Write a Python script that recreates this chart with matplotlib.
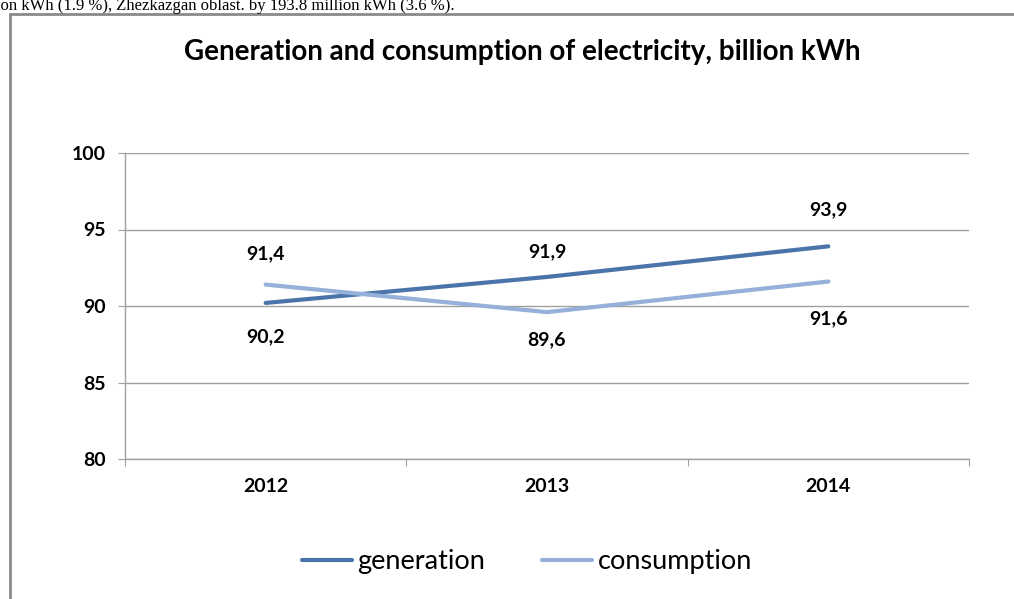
import matplotlib
matplotlib.use("Agg")
import matplotlib.pyplot as plt
from matplotlib.patches import Rectangle
from matplotlib.lines import Line2D

# data
years = ["2012", "2013", "2014"]
generation = [90.2, 91.9, 93.9]
consumption = [91.4, 89.6, 91.6]
gen_labels = ["90,2", "91,9", "93,9"]
con_labels = ["91,4", "89,6", "91,6"]
y_ticks = [80, 85, 90, 95, 100]

# label offsets in points (Excel labels were nudged by hand)
gen_dy = [-24, 18, 26]
con_dy = [22, -20, -27]

GEN_C = "#4A74AA"
CON_C = "#95B0D9"
GRID_C = "#a0a0a0"
SANS = ["Lato", "DejaVu Sans"]

plt.rcParams["font.family"] = SANS

fig = plt.figure(figsize=(10.14, 5.99), dpi=100)
W, H = 1014, 599

# text from the page above the chart, mostly cut off
fig.text(455 / W, 1 - 9.5 / H,
         "million kWh (1.9 %), Zhezkazgan oblast. by 193.8 million kWh (3.6 %).",
         ha="right", va="baseline", fontsize=12, family="Liberation Serif")

# chart frame
fig.patches.append(Rectangle((9.5 / W, -0.1), 1.1, 1 - 13.5 / H + 0.1,
                             transform=fig.transFigure, fill=False,
                             edgecolor="#8a8a8a", lw=2))

ax = fig.add_axes([125 / W, 1 - 459 / H, 844 / W, 306 / H])
x = range(len(years))
ax.plot(x, generation, color=GEN_C, lw=3, solid_capstyle="round", label="generation")
ax.plot(x, consumption, color=CON_C, lw=3, solid_capstyle="round", label="consumption")

for i in x:
    ax.annotate(gen_labels[i], (i, generation[i]), xytext=(0, gen_dy[i]),
                textcoords="offset points", ha="center", va="center",
                fontsize=14, fontweight="bold")
    ax.annotate(con_labels[i], (i, consumption[i]), xytext=(0, con_dy[i]),
                textcoords="offset points", ha="center", va="center",
                fontsize=14, fontweight="bold")

ax.set_xlim(-0.5, len(years) - 0.5)
ax.set_ylim(80, 100)
ax.set_yticks(y_ticks)
ax.set_yticklabels([str(v) for v in y_ticks], fontsize=14, fontweight="bold")
ax.grid(axis="y", color=GRID_C, lw=1)
ax.set_axisbelow(True)

ax.set_xticks([i - 0.5 for i in range(len(years) + 1)])
ax.set_xticklabels([])
ax.set_xticks(list(x), minor=True)
ax.set_xticklabels(years, minor=True, fontsize=14, fontweight="bold")
ax.tick_params(axis="x", which="minor", length=0, pad=14)
ax.tick_params(axis="x", which="major", length=5, color=GRID_C, direction="out")
ax.tick_params(axis="y", length=5, color=GRID_C, pad=9)

for s in ("top", "right"):
    ax.spines[s].set_visible(False)
for s in ("left", "bottom"):
    ax.spines[s].set_color(GRID_C)
    ax.spines[s].set_linewidth(1)

fig.text(522 / W, 1 - 52 / H, "Generation and consumption of electricity, billion kWh",
         ha="center", va="center", fontsize=20, fontweight="bold")

handles = [Line2D([], [], color=GEN_C, lw=3, solid_capstyle="round"),
           Line2D([], [], color=CON_C, lw=3, solid_capstyle="round")]
fig.legend(handles, ["generation", "consumption"], loc="center",
           bbox_to_anchor=(527 / W, 1 - 562 / H), ncol=2, frameon=False,
           fontsize=19.5, handlelength=1.85, handletextpad=0.2, columnspacing=2.1)

fig.savefig("out.png", dpi=100)
